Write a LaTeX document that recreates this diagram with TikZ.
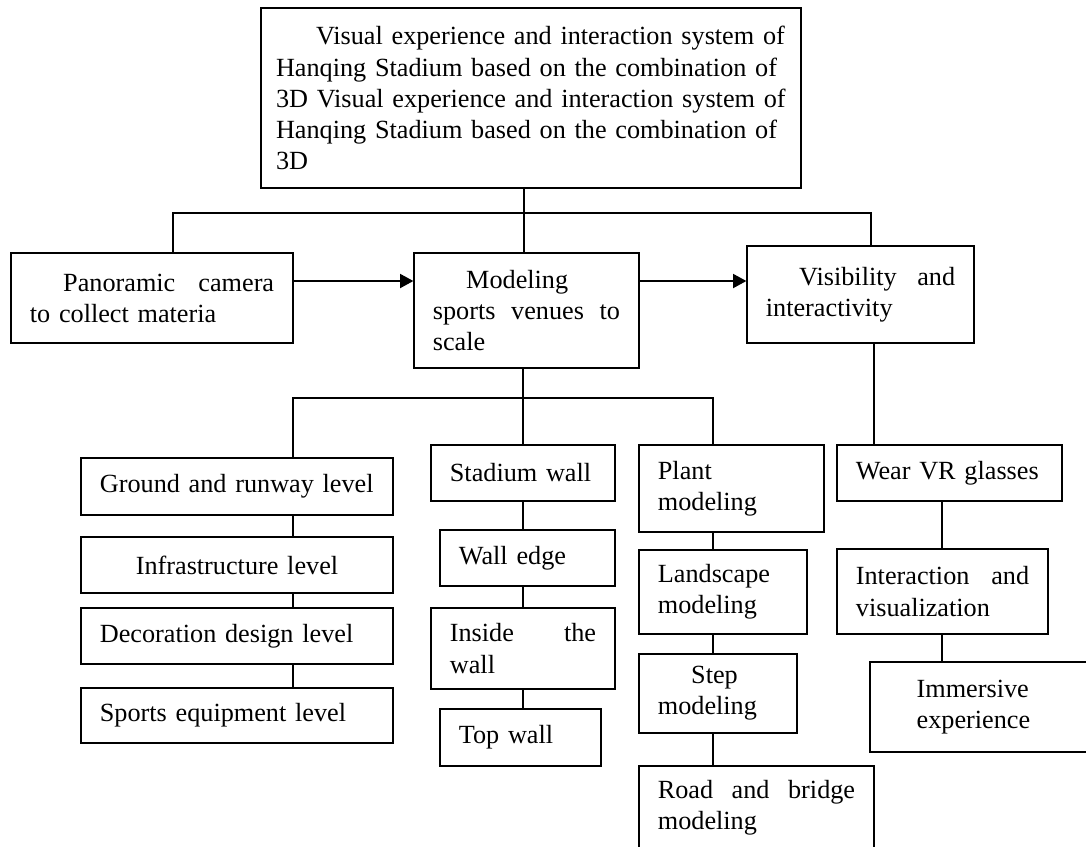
\documentclass[tikz,border=0pt]{standalone}
\usepackage{fontspec}
\setmainfont{Liberation Serif}
\usetikzlibrary{arrows.meta,positioning}

\newcommand{\fillline}[1]{\makebox[\linewidth][s]{#1}}

\begin{document}
\begin{tikzpicture}[x=0.45pt,y=-0.45pt]
\tikzset{
  blockbox/.style={rectangle,draw=black,line width=0.6pt,inner xsep=8.5pt,inner ysep=0pt,align=left,font=\fontsize{11.8}{14}\selectfont},
  link/.style={draw=black,line width=0.6pt,line cap=rect},
  arrowlink/.style={draw=black,line width=0.6pt,-{Triangle[length=6pt,width=6.4pt]}}
}
\useasboundingbox (0,0) rectangle (1086,846);
% top level
\node[blockbox,inner xsep=6.75pt,text width=229.5pt,minimum height=81pt] (n_top) at (531,98)
  {\fillline{\hspace*{18pt}Visual experience and interaction system of}\\
   \fillline{Hanqing Stadium based on the combination of}\\
   \fillline{3D Visual experience and interaction system of}\\
   \fillline{Hanqing Stadium based on the combination of}\\
   3D};
% second level
\node[blockbox,text width=109.9pt,minimum height=40.5pt] (n_pan) at (152,298)
  {\hspace*{15pt}Panoramic\hfill camera\\to collect materia};
\node[blockbox,text width=84.25pt,minimum height=51.75pt] (n_mod) at (526.5,310.5)
  {\hspace*{15pt}Modeling\\sports\hfill venues\hfill to\\scale};
\node[blockbox,text width=85.15pt,minimum height=43.65pt] (n_vis) at (860.5,294.5)
  {\hspace*{15pt}Visibility\hfill and\\interactivity};
% left column
\node[blockbox,text width=123.4pt,minimum height=25.65pt] (n_ground) at (237,486.5) {\mbox{Ground and runway level}};
\node[blockbox,text width=123.4pt,minimum height=25.2pt,align=center] (n_infra) at (237,565) {Infrastructure level};
\node[blockbox,text width=123.4pt,minimum height=25.2pt] (n_deco) at (237,636) {Decoration design level};
\node[blockbox,text width=123.4pt,minimum height=24.75pt] (n_sports) at (237,715.5) {Sports equipment level};
% wall column
\node[blockbox,text width=65.8pt,minimum height=25.2pt] (n_wall) at (523,473) {Stadium wall};
\node[blockbox,text width=61.75pt,minimum height=25.2pt] (n_edge) at (527.5,558) {Wall edge};
\node[blockbox,text width=65.8pt,minimum height=36.45pt] (n_inside) at (523,648.5) {Inside\hfill the\\wall};
\node[blockbox,text width=55.45pt,minimum height=25.65pt] (n_topwall) at (520.5,737.5) {Top wall};
% modeling column
\node[blockbox,text width=66.25pt,minimum height=39.15pt] (n_plant) at (731.5,488.5) {Plant\\modeling};
\node[blockbox,text width=58.6pt,minimum height=37.8pt] (n_land) at (723,592) {Landscape\\modeling};
\node[blockbox,text width=54.1pt,minimum height=35.55pt] (n_step) at (718,693.5) {\hspace*{15pt}Step\\modeling};
\node[blockbox,text width=88.75pt,minimum height=37.8pt] (n_road) at (756.5,808) {Road\hfill and\hfill bridge\\modeling};
% right column
\node[blockbox,text width=84.25pt,minimum height=25.2pt] (n_wear) at (949.5,473) {Wear VR glasses};
\node[blockbox,text width=77.95pt,minimum height=38.25pt] (n_inter) at (942.5,591.5) {Interaction\hfill and\\visualization};
\node[blockbox,inner xsep=21pt,text width=57pt,minimum height=40.5pt] (n_imm) at (980,707) {Immersive\\experience};
% branch points
\coordinate (b1) at (524,213);
\coordinate (b1l) at (173,213);
\coordinate (b1r) at (871,213);
\coordinate (b2) at (523,398);
\coordinate (b2l) at (293,398);
\coordinate (b2r) at (713,398);
\coordinate (cv) at (874,400);
\coordinate (cr) at (942,600);
\coordinate (ar) at (0,281);
% connectors
\draw[link] (n_top.south -| b1) -- (n_mod.north -| b1);
\draw[link] (n_pan.north -| b1l) -- (b1l) -- (b1r) -- (n_vis.north -| b1r);
\draw[arrowlink] (n_pan.east |- ar) -- (n_mod.west |- ar);
\draw[arrowlink] (n_mod.east |- ar) -- (n_vis.west |- ar);
\draw[link] (n_mod.south -| b2) -- (n_wall.north -| b2);
\draw[link] (n_ground.north -| b2l) -- (b2l) -- (b2r) -- (n_plant.north -| b2r);
\foreach \a/\b in {ground/infra,infra/deco,deco/sports}
  \draw[link] (n_\a.south -| b2l) -- (n_\b.north -| b2l);
\foreach \a/\b in {wall/edge,edge/inside,inside/topwall}
  \draw[link] (n_\a.south -| b2) -- (n_\b.north -| b2);
\foreach \a/\b in {plant/land,land/step,step/road}
  \draw[link] (n_\a.south -| b2r) -- (n_\b.north -| b2r);
\draw[link] (n_vis.south -| cv) -- (n_wear.north -| cv);
\foreach \a/\b in {wear/inter,inter/imm}
  \draw[link] (n_\a.south -| cr) -- (n_\b.north -| cr);
\end{tikzpicture}
\end{document}
